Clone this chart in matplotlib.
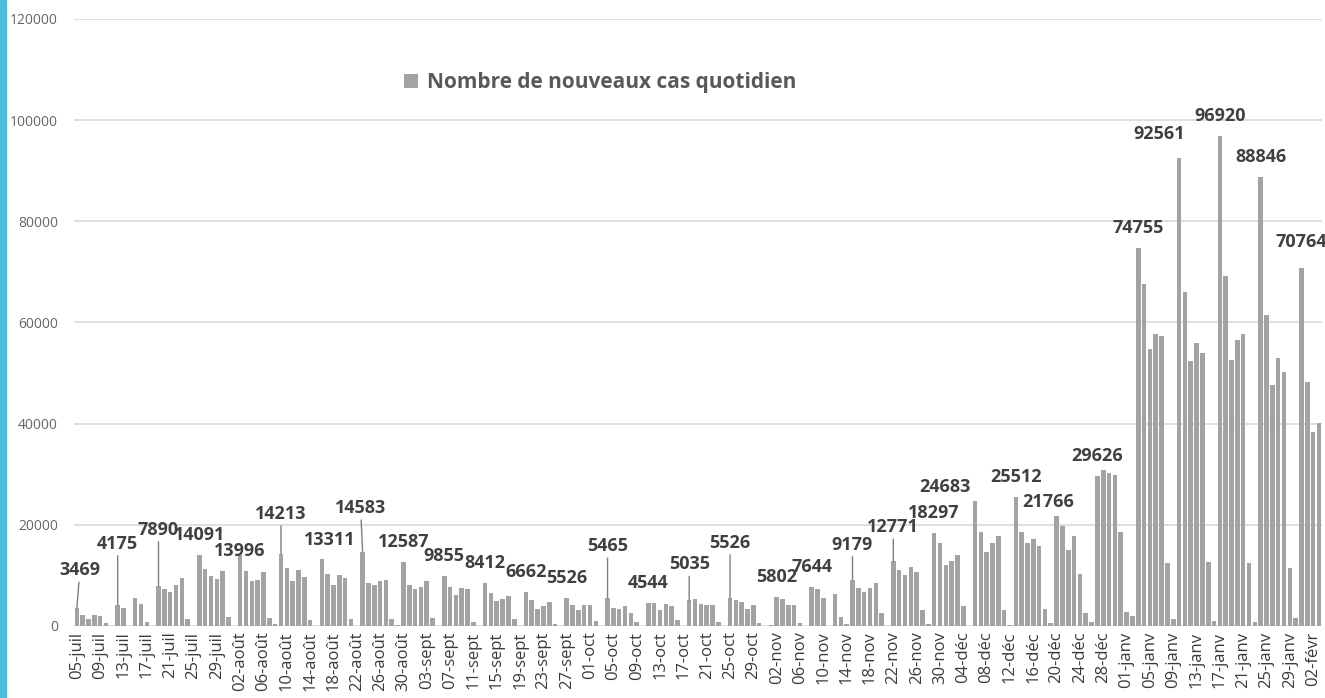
import matplotlib
matplotlib.use("Agg")
import matplotlib.pyplot as plt
from matplotlib.patches import Rectangle
import pandas as pd

plt.rcParams['font.family'] = ['Open Sans', 'DejaVu Sans']

# nouveaux cas quotidiens, du lundi 05-juil au jeudi 03-févr (une ligne = une semaine)
nouveaux_cas = [
    3469, 2100, 1450, 2200, 2050, 660, 0,
    4175, 3640, 0, 5600, 4300, 860, 0,
    7890, 7280, 6750, 8140, 9470, 1460, 0,
    14091, 11250, 9930, 9330, 10920, 1790, 0,
    13996, 10920, 8940, 9070, 10720, 1650, 330,
    14213, 11450, 8870, 11050, 9600, 1190, 0,
    13311, 10260, 8080, 10060, 9400, 1460, 0,
    14583, 8540, 8140, 8870, 9140, 1320, 200,
    12587, 8140, 7220, 7750, 8870, 1650, 0,
    9855, 7750, 6090, 7480, 7220, 860, 0,
    8412, 6550, 4970, 5430, 5830, 1320, 0,
    6662, 5100, 3440, 3970, 4770, 330, 0,
    5526, 4100, 3240, 4240, 4240, 990, 0,
    5465, 3640, 3440, 3900, 2580, 860, 0,
    4544, 4630, 3110, 4300, 3900, 1130, 0,
    5035, 5300, 4440, 4100, 4100, 860, 0,
    5526, 5100, 4770, 3440, 4100, 660, 0,
    150, 5802, 5300, 4100, 4100, 660, 0,
    7644, 7220, 5500, 0, 6290, 1790, 330,
    9179, 7420, 6690, 7480, 8540, 2500, 0,
    12771, 11050, 10060, 11580, 10590, 3240, 330,
    18297, 16400, 12110, 12900, 14100, 3900, 0,
    24683, 18670, 14590, 16480, 17770, 3250, 200,
    25512, 18520, 16480, 17160, 15880, 3400, 500,
    21766, 19800, 15000, 17770, 10200, 2500, 750,
    29626, 30770, 30240, 29860, 18520, 2800, 1890,
    74755, 67700, 54800, 57700, 57300, 12400, 1300,
    92561, 66000, 52300, 55900, 53900, 12700, 1000,
    96920, 69200, 52600, 56500, 57700, 12400, 800,
    88846, 61500, 47700, 53000, 50200, 11500, 1500,
    70764, 48300, 38300, 40200,
]
premier_jour = "2021-07-05"
mois_fr = {7: "juil", 8: "août", 9: "sept", 10: "oct", 11: "nov",
           12: "déc", 1: "janv", 2: "févr"}

# jours portant une étiquette de valeur
jours_etiquetes = [
    "2021-07-05", "2021-07-12", "2021-07-19", "2021-07-26", "2021-08-02",
    "2021-08-09", "2021-08-16", "2021-08-23", "2021-08-30", "2021-09-06",
    "2021-09-13", "2021-09-20", "2021-09-27", "2021-10-04", "2021-10-11",
    "2021-10-18", "2021-10-25", "2021-11-02", "2021-11-08", "2021-11-15",
    "2021-11-22", "2021-11-29", "2021-12-06", "2021-12-13", "2021-12-20",
    "2021-12-27", "2022-01-03", "2022-01-10", "2022-01-17", "2022-01-24",
    "2022-01-31",
]
# décalage des étiquettes (dx, dy en pixels), sinon (0, 20)
decalages = {
    "2021-07-05": (3, 38), "2021-07-12": (0, 61), "2021-07-19": (0, 56),
    "2021-08-02": (0, 4), "2021-08-09": (0, 40), "2021-08-16": (8, 19),
    "2021-08-23": (-2, 44), "2021-10-04": (0, 52), "2021-10-18": (0, 36),
    "2021-10-25": (0, 55), "2021-11-15": (0, 35), "2021-11-22": (0, 34),
    "2021-12-06": (-30, 14), "2021-12-20": (-8, 14), "2022-01-10": (-20, 24),
    "2022-01-31": (0, 26),
}

dates = pd.date_range(premier_jour, periods=len(nouveaux_cas), freq="D")
x = list(range(len(dates)))

fig = plt.figure(figsize=(13.25, 6.98), dpi=100)
ax = fig.add_axes([0.0558, 0.1032, 0.9419, 0.8696])
fig.add_artist(Rectangle((0, 0), 6 / 1325, 1, transform=fig.transFigure,
                         color="#48C0DC", zorder=5))

bars = ax.bar(x, nouveaux_cas, width=0.78, color="#A3A3A3",
              label="Nombre de nouveaux cas quotidien", zorder=2)

ax.set_xlim(-0.5, len(x) - 0.5)
ax.set_ylim(0, 120000)
ax.set_yticks(range(0, 120001, 20000))
ax.yaxis.grid(True, color="#D9D9D9", lw=1.2, zorder=0)
ax.set_axisbelow(True)
for s in ax.spines.values():
    s.set_visible(False)
ax.tick_params(axis="y", length=0, pad=11.5, labelsize=10, labelcolor="#666666")

ticks = x[::4]
ax.set_xticks(ticks)
ax.set_xticklabels([f"{dates[i].day:02d}-{mois_fr[dates[i].month]}" for i in ticks],
                   rotation=90, fontsize=12, color="#3A3A3A")
ax.tick_params(axis="x", length=0, pad=4)

for jour in jours_etiquetes:
    i = dates.get_loc(pd.Timestamp(jour))
    v = nouveaux_cas[i]
    dx, dy = decalages.get(jour, (0, 20))
    arrow = None
    if dy > 30:
        arrow = dict(arrowstyle="-", color="#808080", lw=1, shrinkA=0, shrinkB=0)
    ax.annotate(str(v), xy=(i, v), xytext=(dx, dy), textcoords="offset pixels",
                ha="center", va="center", fontsize=13, fontweight="bold",
                color="#404040", arrowprops=arrow, zorder=3)

leg = ax.legend(loc="center", bbox_to_anchor=(0.4215, 0.895), frameon=False,
                handlelength=0.7, handleheight=0.7, handletextpad=0.4,
                prop={"size": 15, "weight": "bold"})
for t in leg.get_texts():
    t.set_color("#595959")

fig.savefig("out.png", dpi=100)
